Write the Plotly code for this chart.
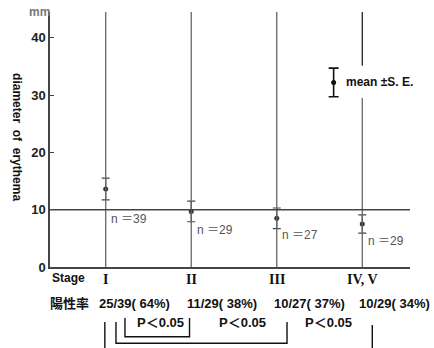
import plotly.graph_objects as go

# ---- data ----
stages = ["I", "II", "III", "IV, V"]
means = [13.6, 9.7, 8.5, 7.5]
se = [1.9, 1.8, 1.8, 1.6]
n_cases = [39, 29, 27, 29]
positives = [25, 11, 10, 10]
comparisons = [(0, 1), (0, 2), (0, 3)]
p_labels = ["P＜0.05", "P＜0.05", "P＜0.05"]
y_ticks = [0, 10, 20, 30, 40]

W, H = 434, 348
ML, MR, MT, MB = 50, 24, 12, 81
X0, X1 = 0.3486, 4.558
YMAX = 44.5

def py(ypix):
    # pixel row -> paper y
    return (H - MB - ypix) / (H - MT - MB)

xs = [i + 1 for i in range(len(stages))]
BOLD = "Liberation Sans, Noto Sans CJK JP, sans-serif"

fig = go.Figure()

# stage vertical lines
shapes = []
for i, x in enumerate(xs):
    if i == len(xs) - 1:
        shapes.append(dict(type="line", xref="x", yref="y", x0=x, x1=x, y0=0, y1=29.5,
                           line=dict(color="#666", width=1.3)))
        shapes.append(dict(type="line", xref="x", yref="y", x0=x, x1=x, y0=35.1, y1=YMAX,
                           line=dict(color="#222", width=1.3)))
    else:
        shapes.append(dict(type="line", xref="x", yref="y", x0=x, x1=x, y0=0, y1=YMAX,
                           line=dict(color="#666", width=1.3)))
# reference line at 10
shapes.append(dict(type="line", xref="paper", yref="y", x0=0, x1=1, y0=10, y1=10,
                   line=dict(color="#444", width=1.4)))

# mean +- SE
fig.add_trace(go.Scatter(
    x=xs, y=means, mode="markers",
    marker=dict(size=5, color="#333"),
    error_y=dict(type="data", array=se, visible=True, color="#444", thickness=1.2, width=4),
    showlegend=False, hoverinfo="skip"))

# legend symbol
fig.add_trace(go.Scatter(
    x=[3.665], y=[32.2], mode="markers",
    marker=dict(size=5, color="#111"),
    error_y=dict(type="data", array=[2.5], visible=True, color="#111", thickness=1.6, width=5),
    showlegend=False, hoverinfo="skip"))

ann = []
ann.append(dict(x=3.79, y=32.2, xref="x", yref="y", text="mean ±S. E.", showarrow=False,
                xanchor="left", yanchor="middle",
                font=dict(family=BOLD, size=12, color="#111", weight="bold")))

# n labels
n_pos_y = [8.3, 6.4, 5.5, 4.5]
for x, n, yy in zip(xs, n_cases, n_pos_y):
    ann.append(dict(x=x + 0.04, y=yy, xref="x", yref="y", text=f"n ＝{n}", showarrow=False,
                    xanchor="left", yanchor="middle",
                    font=dict(family=BOLD, size=12, color="#555")))

# y axis title and unit
ann.append(dict(x=-0.092, y=0.51, xref="paper", yref="paper",
                text="diameter\u00a0\u00a0of\u00a0\u00a0erythema", textangle=90, showarrow=False,
                xanchor="center", yanchor="middle",
                font=dict(family=BOLD, size=12, color="#111", weight="bold")))
ann.append(dict(x=0, y=py(12), xref="paper", yref="paper", text="mm", showarrow=False,
                xanchor="right", yanchor="middle", xshift=2,
                font=dict(family=BOLD, size=12, color="#777", weight="bold")))

# stage row
ann.append(dict(x=0, y=py(278), xref="paper", yref="paper", text="Stage", showarrow=False,
                xanchor="left", yanchor="middle",
                font=dict(family=BOLD, size=12, color="#111", weight="bold")))
for x, s in zip(xs, stages):
    ann.append(dict(x=x, y=py(279), xref="x", yref="paper", text=s, showarrow=False,
                    xanchor="center", yanchor="middle",
                    font=dict(family="Liberation Serif, serif", size=14, color="#111", weight="bold")))

# positive rate row
ann.append(dict(x=0, y=py(303), xref="paper", yref="paper", text="陽性率", showarrow=False,
                xanchor="left", yanchor="middle", xshift=-2,
                font=dict(family=BOLD, size=13, color="#111", weight="bold")))
rate_off = [-0.1, -0.07, -0.05, -0.06]
for x, p, n, off in zip(xs, positives, n_cases, rate_off):
    pct = round(100 * p / n)
    ann.append(dict(x=x + off, y=py(303), xref="x", yref="paper",
                    text=f"{p}/{n}( {pct}%)", showarrow=False,
                    xanchor="left", yanchor="middle",
                    font=dict(family=BOLD, size=13, color="#111", weight="bold")))

# p-value labels and brackets
p_cx = [1.64, 2.6, 3.6]
for cx, lab in zip(p_cx, p_labels):
    ann.append(dict(x=cx, y=py(322), xref="x", yref="paper", text=lab, showarrow=False,
                    xanchor="center", yanchor="middle",
                    font=dict(family=BOLD, size=13, color="#111", weight="bold")))

br_left = [1.225, 1.12, 0.99]
br_right = [1.98, 3.12, 4.117]
br_top_l = [318, 322, 322]
br_top_r = [318, 322, 325]
br_bot = [336.7, 343.3, 360]
for (a, b), l, r, tl, tr, bt in zip(comparisons, br_left, br_right, br_top_l, br_top_r, br_bot):
    path = (f"M {l},{py(tl)} L {l},{py(bt)} L {r},{py(bt)} L {r},{py(tr)}")
    shapes.append(dict(type="path", xref="x", yref="paper", path=path,
                       line=dict(color="#111", width=1.4)))

fig.update_layout(
    width=W, height=H,
    margin=dict(l=ML, r=MR, t=MT, b=MB),
    paper_bgcolor="white", plot_bgcolor="white",
    shapes=shapes, annotations=ann,
    xaxis=dict(range=[X0, X1], showgrid=False, zeroline=False, showticklabels=False,
               showline=True, linecolor="#444", linewidth=1.5, ticks=""),
    yaxis=dict(range=[0, YMAX], showgrid=False, zeroline=False,
               showline=True, linecolor="#444", linewidth=1.5,
               ticks="inside", ticklen=4, tickcolor="#444",
               tickvals=y_ticks, ticktext=[str(t) for t in y_ticks],
               tickfont=dict(family=BOLD, size=13, color="#222", weight="bold")),
)

fig.write_html("out.html")
